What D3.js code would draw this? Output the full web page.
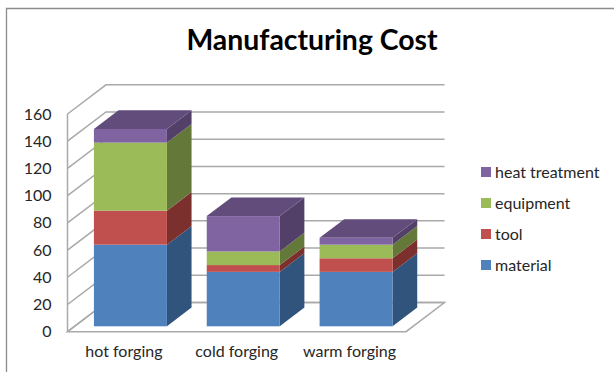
<!DOCTYPE html>
<html>
<head>
<meta charset="utf-8">
<script src="https://cdn.jsdelivr.net/npm/d3@7/dist/d3.min.js"></script>
<style>
html, body { margin: 0; padding: 0; background: #fff; }
svg { display: block; }
text { font-family: Lato, "Open Sans", sans-serif; fill: #262626; }
</style>
</head>
<body>
<svg id="chart" width="614" height="372"></svg>
<script>
// Manufacturing cost per forging process
const categories = ["hot forging", "cold forging", "warm forging"];
const seriesNames = ["material", "tool", "equipment", "heat treatment"];
const material = [60, 40, 40];
const tool = [25, 5, 10];
const equipment = [50, 10, 10];
const heatTreatment = [10, 26, 5];
const yTicks = [0, 20, 40, 60, 80, 100, 120, 140, 160];

const frontColors = ["#4f81bd", "#c0504d", "#9bbb59", "#8064a2"];
const sideColors = ["#31547d", "#7c302e", "#64783a", "#534069"];
const topColor = "#614c7b";
const gridColor = "#a9a9a9";

const svg = d3.select("#chart");

// Scales for the front plane of the 3D box
const x = d3.scaleBand().domain(categories).range([67.5, 406]).paddingInner(0).paddingOuter(0);
const y = d3.scaleLinear().domain([0, 160]).range([331.7, 114]);

// Oblique projection: depth 0 is the front plane, depth 1 the back wall
const depthX = 38.5, depthY = -29.2;
const project = (px, py, depth) => [px + depthX * depth, py + depthY * depth];
const barShiftX = 6.5, barShiftY = -5.4, barDepthSpan = 0.64, barWidth = 73;
const pathOf = pts => d3.line()(pts) + "Z";

// Chart area frame, open at the right and bottom
svg.append("path")
  .attr("d", "M6.5,372V8.5H614")
  .attr("fill", "none").attr("stroke", "#8c8c8c").attr("stroke-width", 1.3);

// Floor and walls
const xL = x.range()[0], xR = x.range()[1];
const grid = svg.append("g").attr("fill", "none").attr("stroke", gridColor).attr("stroke-width", 1.5);
yTicks.forEach(t => {
  const py = y(t);
  const back = project(xL, py, 1);
  const backR = project(xR, py, 1);
  grid.append("path").attr("d", d3.line()([[xL, py], back, backR]));
});
grid.append("path").attr("d", pathOf([
  [xL, y(0)], [xR, y(0)], project(xR, y(0), 1), project(xL, y(0), 1)
]));
grid.append("line")
  .attr("x1", xL).attr("x2", xL).attr("y1", y(160)).attr("y2", y(0));

// Value axis labels
const yAxis = d3.axisLeft(y).tickValues(yTicks).tickSize(0).tickPadding(16);
const yG = svg.append("g").attr("transform", `translate(${xL},0)`).call(yAxis);
yG.select(".domain").remove();
yG.selectAll("text").style("font-size", "16px").style("fill", "#262626");

// Category axis labels
const xAxis = d3.axisBottom(x).tickSize(0).tickPadding(14);
const xG = svg.append("g").attr("transform", `translate(0,${y(0)})`).call(xAxis);
xG.select(".domain").remove();
xG.selectAll("text").style("font-size", "16px").style("fill", "#262626");

// Stacked 3D columns
const rows = categories.map((c, i) => ({
  category: c,
  material: material[i], tool: tool[i],
  equipment: equipment[i], "heat treatment": heatTreatment[i]
}));
const stacked = d3.stack().keys(seriesNames)(rows);

categories.forEach((c, i) => {
  const cx = x(c) + x.bandwidth() / 2 + barShiftX;
  const x0 = cx - barWidth / 2, x1 = cx + barWidth / 2;
  const g = svg.append("g");
  stacked.forEach((layer, s) => {
    const y0 = y(layer[i][0]) + barShiftY, y1 = y(layer[i][1]) + barShiftY;
    g.append("path").attr("fill", sideColors[s]).attr("d", pathOf([
      [x1, y0], [x1, y1],
      [x1 + depthX * barDepthSpan, y1 + depthY * barDepthSpan],
      [x1 + depthX * barDepthSpan, y0 + depthY * barDepthSpan]
    ]));
    g.append("rect").attr("fill", frontColors[s])
      .attr("x", x0).attr("y", y1).attr("width", barWidth).attr("height", y0 - y1);
  });
  const topY = y(stacked[stacked.length - 1][i][1]) + barShiftY;
  g.append("path").attr("fill", topColor).attr("d", pathOf([
    [x0, topY], [x1, topY],
    [x1 + depthX * barDepthSpan, topY + depthY * barDepthSpan],
    [x0 + depthX * barDepthSpan, topY + depthY * barDepthSpan]
  ]));
});

// Title
svg.append("text").attr("x", 312).attr("y", 50).attr("text-anchor", "middle")
  .style("font-size", "28.4px").style("font-weight", 700).style("fill", "#000")
  .text("Manufacturing Cost");

// Legend, listed top of stack first
const legendY = d3.scalePoint().domain(seriesNames.slice().reverse()).range([172, 265]);
const legend = svg.append("g");
seriesNames.forEach((name, s) => {
  legend.append("rect").attr("x", 481).attr("y", legendY(name) - 5)
    .attr("width", 10).attr("height", 10).attr("fill", frontColors[s]);
  legend.append("text").attr("x", 495).attr("y", legendY(name)).attr("dy", "0.35em")
    .style("font-size", "16px").text(name);
});
</script>
</body>
</html>
